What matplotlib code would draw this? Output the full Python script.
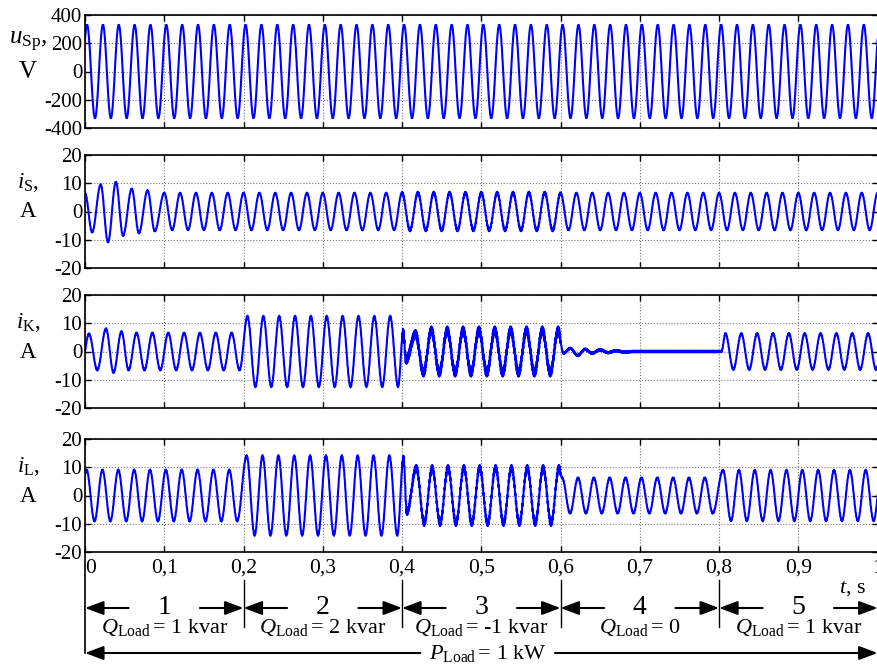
import matplotlib.pyplot as plt
import numpy as np

plt.rcParams['font.family'] = ['Liberation Serif', 'DejaVu Serif']
plt.rcParams['mathtext.fontset'] = 'custom'
plt.rcParams['mathtext.rm'] = 'Liberation Serif'
plt.rcParams['mathtext.it'] = 'Liberation Serif:italic'
plt.rcParams['axes.unicode_minus'] = False
plt.rcParams['path.simplify'] = False

# Load intervals and their labels
seg_edges = [0.0, 0.2, 0.4, 0.6, 0.8, 1.0]
seg_labels = ['1', '2', '3', '4', '5']
q_load = ['1 kvar', '2 kvar', '-1 kvar', '0', '1 kvar']
p_load = '1 kW'

x_ticks = [0.0, 0.1, 0.2, 0.3, 0.4, 0.5, 0.6, 0.7, 0.8, 0.9, 1.0]
x_labels = ['0', '0,1', '0,2', '0,3', '0,4', '0,5', '0,6', '0,7', '0,8', '0,9', '1']

# Steady peak amplitude of each signal in each interval
us_amp = [330, 330, 330, 330, 330]
is_amp = [6.5, 6.5, 6.6, 6.5, 6.5]
ik_amp = [6.5, 12.4, 7.5, 0.0, 6.3]
il_amp = [9.0, 14.0, 9.8, 6.2, 8.9]

# Time of the first positive peak after the start of each interval, s
us_lag = [0.0026, 0.0026, 0.0026, 0.0026, 0.0026]
is_lag = [0.0, 0.0, 0.0, 0.0, 0.0]
ik_lag = [0.005, 0.005, 0.017, 0.012, 0.008]
il_lag = [0.002, 0.004, 0.018, 0.002, 0.005]

# Half width of the switching ripple band in each interval
us_rip = [2, 2, 2, 2, 2]
is_rip = [0.15, 0.15, 0.4, 0.15, 0.15]
ik_rip = [0.2, 0.25, 1.4, 0.25, 0.2]
il_rip = [0.2, 0.25, 1.0, 0.2, 0.2]

# Transient extremes after switching events (time in s, value)
us_tr_t = []
us_tr_v = []
is_tr_t = [0.009, 0.0198, 0.029, 0.039, 0.048, 0.059, 0.068, 0.079, 0.088]
is_tr_v = [-7.3, 9.5, -10.8, 10.4, -8.5, 8.0, -7.6, 7.4, -6.9]
ik_tr_t = [0.005, 0.0155, 0.0265, 0.036, 0.046, 0.4015, 0.405, 0.417,
           0.6035, 0.6124, 0.6216, 0.631, 0.6397, 0.650, 0.660, 0.670, 0.680, 0.803]
ik_tr_v = [6.2, -6.5, 8.0, -7.4, 7.0, 6.8, -3.0, 6.2,
           -0.6, 1.1, -1.4, 0.8, -0.6, 0.6, -0.4, 0.3, -0.2, 0.0]
il_tr_t = [0.4018, 0.406]
il_tr_v = [13.3, -6.0]

t = np.linspace(0, 1, 100001)
half = 0.01  # half period of 50 Hz


def waveform(amp, lag, rip, tr_t, tr_v):
    te, ve = [], []
    n = len(amp)
    for i in range(n):
        s, e = seg_edges[i], seg_edges[i + 1]
        for k in range(-2, 23):
            tk = s + lag[i] + half * k
            if tk < s and i > 0:
                continue
            if tk >= e and i < n - 1:
                continue
            if any(abs(tk - x) < 0.004 for x in tr_t):
                continue
            te.append(tk)
            ve.append(amp[i] * (-1) ** k)
    te = np.array(te + list(tr_t))
    ve = np.array(ve + list(tr_v))
    order = np.argsort(te)
    te, ve = te[order], ve[order]
    idx = np.clip(np.searchsorted(te, t, side='right') - 1, 0, len(te) - 2)
    frac = (t - te[idx]) / (te[idx + 1] - te[idx])
    y = ve[idx] + (ve[idx + 1] - ve[idx]) * (1 - np.cos(np.pi * frac)) / 2
    seg = np.clip(np.searchsorted(seg_edges, t, side='right') - 1, 0, n - 1)
    y = y + np.array(rip)[seg] * np.sin(2 * np.pi * 1050 * t)
    return y


signals = [
    waveform(us_amp, us_lag, us_rip, us_tr_t, us_tr_v),
    waveform(is_amp, is_lag, is_rip, is_tr_t, is_tr_v),
    waveform(ik_amp, ik_lag, ik_rip, ik_tr_t, ik_tr_v),
    waveform(il_amp, il_lag, il_rip, il_tr_t, il_tr_v),
]
label_top = [r'$u_{\rm Sp}$,', r'$i_{\rm S}$,', r'$i_{\rm K}$,', r'$i_{\rm L}$,']
label_unit = ['V', 'A', 'A', 'A']

W, H = 877.0, 668.0
panel_top = [15, 155, 295, 439]
panel_h = 113
left, right = 85.0, 877.6

fig = plt.figure(figsize=(W / 100, H / 100), dpi=100)

for i, sig in enumerate(signals):
    top = panel_top[i]
    ax = fig.add_axes([left / W, 1 - (top + panel_h) / H, (right - left) / W, panel_h / H])
    ax.plot(t, sig, color='#0000ff', lw=1.5)
    ax.set_xlim(0, 1)
    if i == 0:
        ax.set_ylim(-400, 400)
        ax.set_yticks([-400, -200, 0, 200, 400])
    else:
        ax.set_ylim(-20, 20)
        ax.set_yticks([-20, -10, 0, 10, 20])
    ax.set_xticks(x_ticks)
    ax.grid(True, linestyle=':', color='#777777', linewidth=0.8)
    ax.tick_params(direction='in', top=True, right=True, length=4, width=1,
                   labelsize=15, pad=2)
    for sp in ax.spines.values():
        sp.set_linewidth(1.2)
    if i < 3:
        ax.tick_params(labelbottom=False)
    else:
        ax.set_xticklabels(x_labels)
        ax.tick_params(axis='x', labelsize=15.5, pad=5)
        ax.get_xticklabels()[0].set_horizontalalignment('left')
    fs = 18 if i == 0 else 16.5
    fig.text(28 / W, 1 - (top + 27) / H, label_top[i], ha='center', va='center', fontsize=fs)
    fig.text(28 / W, 1 - (top + 57) / H, label_unit[i], ha='center', va='center', fontsize=fs)

# Interval annotations below the plots (y measured in pixels from the top)
ann = fig.add_axes([left / W, 0, (right - left) / W, (H - 553) / H])
ann.set_xlim(0, 1)
ann.set_ylim(H, 553)
ann.axis('off')

arrow = dict(arrowstyle='-|>,head_length=0.8,head_width=0.3', mutation_scale=14,
             color='black', lw=1.5, shrinkA=0, shrinkB=0)

ann.plot([0, 0], [553, 653], color='black', lw=1.2, clip_on=False)
for b in seg_edges[1:-1]:
    ann.plot([b, b], [580, 627], color='black', lw=1.0, clip_on=False)

for i in range(len(seg_labels)):
    s, e = seg_edges[i], seg_edges[i + 1]
    c = (s + e) / 2
    ann.annotate('', xy=(s, 608), xytext=(c - 0.045, 608), arrowprops=arrow, annotation_clip=False)
    ann.annotate('', xy=(e, 608), xytext=(c + 0.045, 608), arrowprops=arrow, annotation_clip=False)
    ann.text(c, 607, seg_labels[i], ha='center', va='center', fontsize=20)
    ann.text(c, 628, r'$Q_{\rm Load}\,$= ' + q_load[i], ha='center', va='center', fontsize=16)

ann.annotate('', xy=(0, 653), xytext=(0.423, 653), arrowprops=arrow, annotation_clip=False)
ann.annotate('', xy=(1.0, 653), xytext=(0.593, 653), arrowprops=arrow, annotation_clip=False)
ann.text(0.508, 654, r'$P_{\rm Load}\,$= ' + p_load, ha='center', va='center', fontsize=16)
ann.text(0.968, 589, r'$t$, s', ha='center', va='center', fontsize=16)

fig.savefig('out.png', dpi=100)
